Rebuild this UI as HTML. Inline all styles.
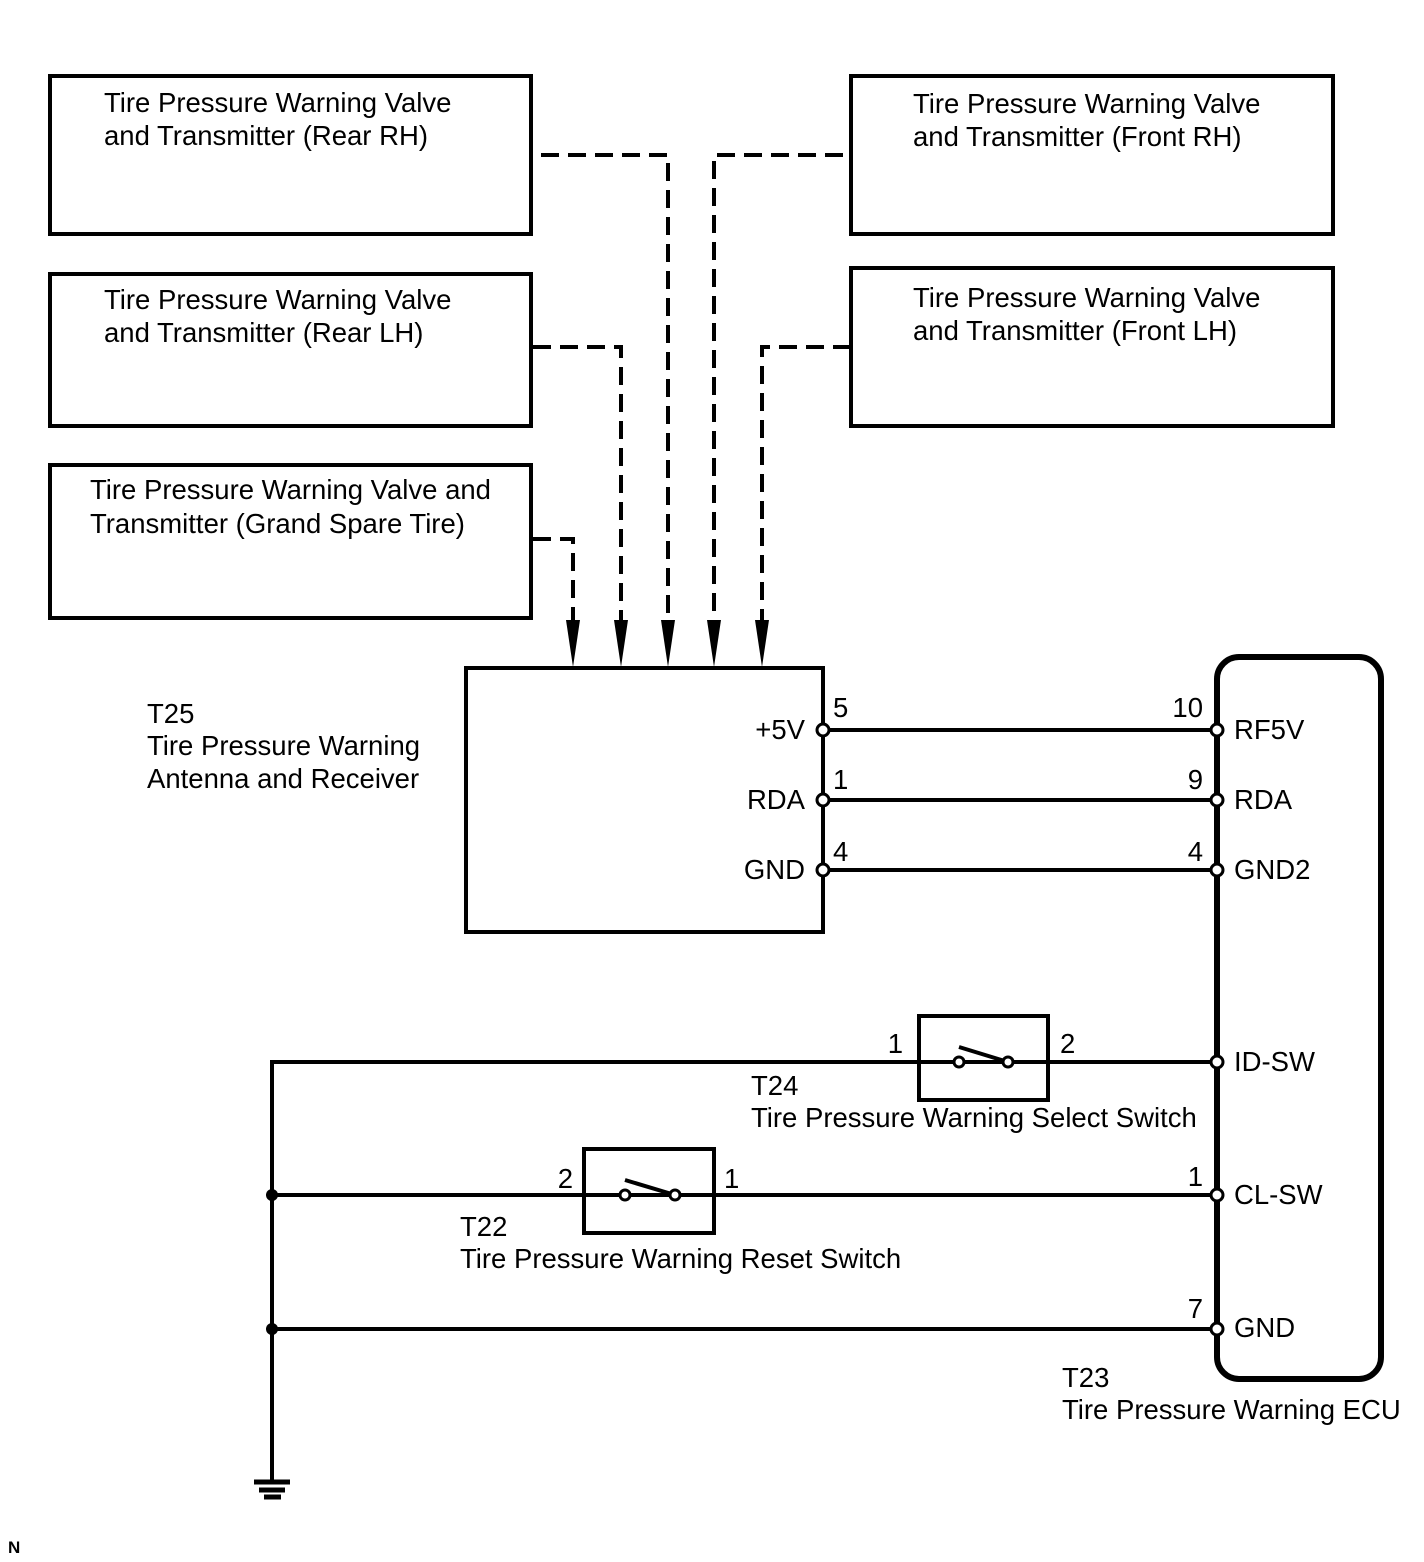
<!DOCTYPE html>
<html><head><meta charset="utf-8"><style>
html,body{margin:0;padding:0;background:#fff}
svg{display:block}
text{font-family:"Liberation Sans",Arial,sans-serif;font-size:27.5px;fill:#000}
</style></head><body>
<svg width="1424" height="1562" viewBox="0 0 1424 1562" xmlns="http://www.w3.org/2000/svg">
<g fill="none" stroke="#000" stroke-width="4">
<rect x="50" y="76" width="481" height="158"/>
<rect x="851" y="76" width="482" height="158"/>
<rect x="50" y="274" width="481" height="152"/>
<rect x="851" y="268" width="482" height="158"/>
<rect x="50" y="465" width="481" height="153"/>
<rect x="466" y="668" width="357" height="264"/>
<rect x="1217" y="657" width="164" height="722" rx="22" stroke-width="6"/>
<rect x="919" y="1016" width="129" height="84"/>
<rect x="584" y="1149" width="130" height="84"/>
</g>
<g fill="none" stroke="#000" stroke-width="4" stroke-dasharray="18,9">
<path d="M541 155H668V622"/>
<path d="M843 155H714V622"/>
<path d="M533 347H621V622"/>
<path d="M851 347H762V622"/>
<path d="M533 539H573V622"/>
</g>
<g fill="#000">
<polygon points="566,620 580,620 573,667"/>
<polygon points="614,620 628,620 621,667"/>
<polygon points="661,620 675,620 668,667"/>
<polygon points="707,620 721,620 714,667"/>
<polygon points="755,620 769,620 762,667"/>
</g>
<g stroke="#000" stroke-width="4" fill="none">
<path d="M823 730H1217M823 800H1217M823 870H1217"/>
<path d="M1217 1062H272V1482"/>
<path d="M272 1195H1217M272 1329H1217"/>
<path d="M959 1047L1008 1062M625 1180L675 1195"/>
</g>
<g stroke="#000" stroke-width="5">
<path d="M254 1482H290M259 1490H285M264 1497H281"/>
</g>
<circle cx="272" cy="1195" r="6" fill="#000"/>
<circle cx="272" cy="1329" r="6" fill="#000"/>
<g fill="#fff" stroke="#000" stroke-width="3">
<circle cx="823" cy="730" r="6"/><circle cx="823" cy="800" r="6"/><circle cx="823" cy="870" r="6"/>
<circle cx="1217" cy="730" r="6"/><circle cx="1217" cy="800" r="6"/><circle cx="1217" cy="870" r="6"/>
<circle cx="1217" cy="1062" r="6"/><circle cx="1217" cy="1195" r="6"/><circle cx="1217" cy="1329" r="6"/>
<circle cx="959" cy="1062" r="5"/><circle cx="1008" cy="1062" r="5"/>
<circle cx="625" cy="1195" r="5"/><circle cx="675" cy="1195" r="5"/>
</g>
<text x="104" y="112">Tire Pressure Warning Valve</text>
<text x="104" y="145">and Transmitter (Rear RH)</text>
<text x="913" y="113">Tire Pressure Warning Valve</text>
<text x="913" y="146">and Transmitter (Front RH)</text>
<text x="104" y="309">Tire Pressure Warning Valve</text>
<text x="104" y="342">and Transmitter (Rear LH)</text>
<text x="913" y="307">Tire Pressure Warning Valve</text>
<text x="913" y="340">and Transmitter (Front LH)</text>
<text x="90" y="499">Tire Pressure Warning Valve and</text>
<text x="90" y="533">Transmitter (Grand Spare Tire)</text>
<text x="147" y="723">T25</text>
<text x="147" y="755">Tire Pressure Warning</text>
<text x="147" y="788">Antenna and Receiver</text>
<text x="805" y="739" text-anchor="end">+5V</text>
<text x="805" y="809" text-anchor="end">RDA</text>
<text x="805" y="879" text-anchor="end">GND</text>
<text x="833" y="717">5</text>
<text x="833" y="789">1</text>
<text x="833" y="861">4</text>
<text x="1203" y="717" text-anchor="end">10</text>
<text x="1203" y="789" text-anchor="end">9</text>
<text x="1203" y="861" text-anchor="end">4</text>
<text x="1234" y="739">RF5V</text>
<text x="1234" y="809">RDA</text>
<text x="1234" y="879">GND2</text>
<text x="1234" y="1071">ID-SW</text>
<text x="1234" y="1204">CL-SW</text>
<text x="1234" y="1337">GND</text>
<text x="1203" y="1186" text-anchor="end">1</text>
<text x="1203" y="1318" text-anchor="end">7</text>
<text x="903" y="1053" text-anchor="end">1</text>
<text x="1060" y="1053">2</text>
<text x="751" y="1095">T24</text>
<text x="751" y="1127">Tire Pressure Warning Select Switch</text>
<text x="573" y="1188" text-anchor="end">2</text>
<text x="724" y="1188">1</text>
<text x="460" y="1236">T22</text>
<text x="460" y="1268">Tire Pressure Warning Reset Switch</text>
<text x="1062" y="1387">T23</text>
<text x="1062" y="1419">Tire Pressure Warning ECU</text>
<text x="8" y="1553" style="font-size:17px;font-weight:bold">N</text>
</svg>
</body></html>
